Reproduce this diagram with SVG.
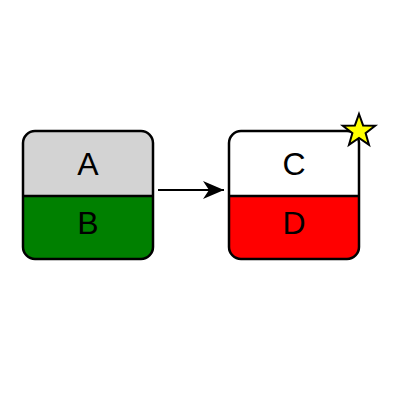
<svg xmlns="http://www.w3.org/2000/svg" width="400" height="400" viewBox="0 0 400 400">
<style>
.frame{fill:none;stroke:#000;stroke-width:2.5}
.div{stroke:#000;stroke-width:2.5}
.lbl{font-family:"Liberation Sans",Arial,sans-serif;font-size:32px;text-anchor:middle;fill:#000}
</style>
<defs>
<clipPath id="c1"><rect x="23" y="131" width="130" height="128" rx="12"/></clipPath>
<clipPath id="c2"><rect x="229" y="131" width="130" height="128" rx="12"/></clipPath>
<marker id="arr" markerWidth="21" markerHeight="20" refX="21" refY="10" orient="auto" markerUnits="userSpaceOnUse">
<path d="M0,1 L21,10 L0,19 L6,10 Z" fill="#000"/>
</marker>
</defs>
<rect width="400" height="400" fill="#fff"/>
<g id="connectors">
<line x1="158" y1="190" x2="224" y2="190" stroke="#000" stroke-width="2" marker-end="url(#arr)"/>
</g>
<g id="nodeAB">
<g clip-path="url(#c1)">
<rect x="23" y="131" width="130" height="65" fill="#d3d3d3"/>
<rect x="23" y="196" width="130" height="63" fill="#008000"/>
</g>
<line class="div" x1="23" y1="196" x2="153" y2="196"/>
<rect class="frame" x="23" y="131" width="130" height="128" rx="12"/>
<text class="lbl" x="88" y="175">A</text>
<text class="lbl" x="88" y="234">B</text>
</g>
<g id="nodeCD">
<g clip-path="url(#c2)">
<rect x="229" y="131" width="130" height="65" fill="#fff"/>
<rect x="229" y="196" width="130" height="63" fill="#ff0000"/>
</g>
<line class="div" x1="229" y1="196" x2="359" y2="196"/>
<rect class="frame" x="229" y="131" width="130" height="128" rx="12"/>
<text class="lbl" x="294" y="175">C</text>
<text class="lbl" x="294" y="234">D</text>
<polygon id="star" points="359,114 363.1,125.4 375.2,125.7 365.6,133.1 369,144.8 359,137.9 349,144.8 352.4,133.1 342.8,125.7 354.9,125.4" fill="#ffff00" stroke="#000" stroke-width="2"/>
</g>
</svg>
